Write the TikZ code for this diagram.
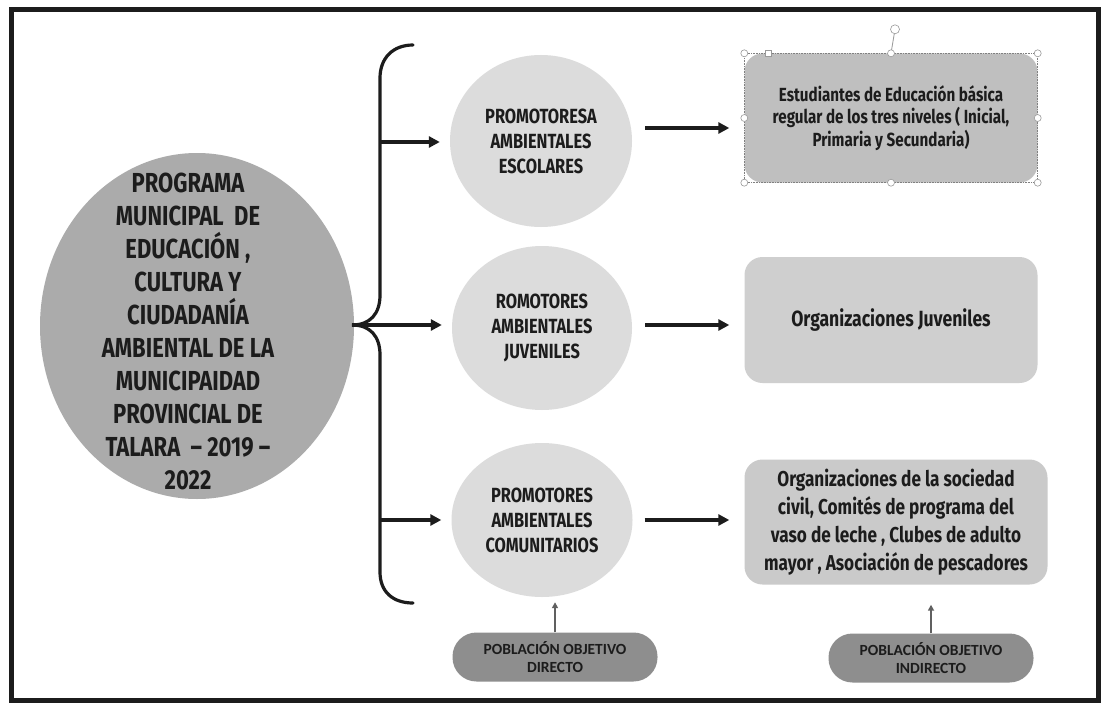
\documentclass[tikz,border=0pt]{standalone}
\usepackage{fontspec}
\usetikzlibrary{shapes.geometric,arrows.meta,calc}
\newfontfamily\agency[FakeStretch=0.8]{Fira Sans}
\newfontfamily\calib{Carlito}
\definecolor{ink}{HTML}{1C1C1C}
\definecolor{ovalfill}{HTML}{ABABAB}
\definecolor{circfill}{HTML}{DCDCDC}
\definecolor{boxA}{HTML}{BFBFBF}
\definecolor{boxB}{HTML}{CFCFCF}
\definecolor{boxC}{HTML}{CACACA}
\definecolor{pillfill}{HTML}{8E8E8E}
\begin{document}
\begin{tikzpicture}[x=1pt,y=1pt,
  arr/.style={line width=3.6pt, draw=ink, -{Triangle[length=11pt,width=11pt]}},
  thinarr/.style={line width=1.8pt, draw=gray!75!black, -{Triangle[length=6pt,width=6pt]}},
  bracestyle/.style={line width=3.2pt, draw=ink, line cap=round},
  oval/.style={ellipse, draw=none, inner sep=0pt},
  circnode/.style={oval, fill=circfill, text=ink, align=center,
     font=\agency\bfseries\fontsize{20.5}{25}\selectfont},
  boxnode/.style={rectangle, rounded corners=18pt, inner sep=0pt, text=ink, align=center,
     minimum width=293pt},
  pill/.style={rectangle, rounded corners=24pt, fill=pillfill, inner sep=0pt,
     minimum width=205pt, minimum height=49pt, align=center, text=ink,
     font=\calib\bfseries\fontsize{15.5}{18}\selectfont},
  handle/.style={circle, draw=gray!80, fill=white, line width=0.6pt, inner sep=0pt, minimum size=7pt}
]
\useasboundingbox (0,0) rectangle (1107,-706);
\fill[white] (0,0) rectangle (1107,-706);
\draw[line width=5pt, draw=ink] (11,-10) rectangle (1098,-700);

% main ellipse
\node[oval, fill=ovalfill, minimum width=314pt, minimum height=346pt] (prog) at (197,-326) {};
\node[text=ink, align=center, inner sep=0pt,
      font=\agency\bfseries\fontsize{27.5}{33}\selectfont] (progtxt) at (188,-331)
 {PROGRAMA\\ MUNICIPAL\ \ DE\\ EDUCACIÓN ,\\ CULTURA Y\\ CIUDADANÍA\\ AMBIENTAL DE LA\\ MUNICIPAIDAD\\ PROVINCIAL DE\\ TALARA\ \ – 2019 –\\ 2022};

% circles
\node[circnode, minimum width=182pt, minimum height=172pt] (c1) at (541,-141)
 {PROMOTORESA\\ AMBIENTALES\\ ESCOLARES};
\node[circnode, minimum width=180pt, minimum height=164pt] (c2) at (542,-328)
 {ROMOTORES\\ AMBIENTALES\\ JUVENILES};
\node[circnode, minimum width=181pt, minimum height=154pt] (c3) at (542,-520)
 {PROMOTORES\\ AMBIENTALES\\ COMUNITARIOS};

% boxes
\node[boxnode, fill=boxA, minimum height=129pt,
      font=\agency\bfseries\fontsize{19}{22.5}\selectfont] (r1) at (891,-118)
 {Estudiantes de Educación básica\\ regular de los tres niveles ( Inicial,\\ Primaria y Secundaria)};
\node[boxnode, fill=boxB, minimum height=126pt,
      font=\agency\bfseries\fontsize{22}{26}\selectfont] (r2) at (891,-320)
 {Organizaciones Juveniles};
\node[boxnode, fill=boxC, minimum width=303pt, minimum height=125pt,
      font=\agency\bfseries\fontsize{21.5}{28}\selectfont] (r3) at (896,-522)
 {Organizaciones de la sociedad\\ civil, Comités de programa del\\ vaso de leche , Clubes de adulto\\ mayor , Asociación de pescadores};

% selection handles on first box
\draw[gray, densely dotted, line width=0.6pt] (r1.north west) rectangle (r1.south east);
\draw[gray!80, line width=0.8pt] (r1.north) -- ++(4,24) coordinate (rot);
\node[handle, minimum size=9pt] (roth) at (rot) {};
\foreach \a in {north west, north, north east, east, south east, south, south west, west}
  \node[handle] at (r1.\a) {};
\node[rectangle, draw=gray!80, fill=white, line width=0.6pt, inner sep=0pt, minimum size=6pt]
  (radh) at ($(r1.north west)+(24,0)$) {};

% pills
\node[pill] (p1) at (555,-657) {POBLACIÓN OBJETIVO\\ DIRECTO};
\node[pill] (p2) at (931,-658) {POBLACIÓN OBJETIVO\\ INDIRECTO};

% brace
\coordinate (bt) at (413,-45);
\coordinate (bm) at (352,-325);
\coordinate (bb) at (413,-603);
\draw[bracestyle] (bt) .. controls (393,-45) and (380,-58) .. (380,-78) -- (380,-295)
  .. controls (380,-314) and (370,-325) .. (bm)
  .. controls (370,-325) and (380,-336) .. (380,-355) -- (380,-572)
  .. controls (380,-592) and (393,-603) .. (bb);

% brace branches
\coordinate (j1) at (380,-142);
\coordinate (j3) at (380,-520);
\draw[arr, shorten >=10pt] (j1) -- (c1.west |- j1);
\draw[arr, shorten >=10pt] (bm) -- (c2.west |- bm);
\draw[arr, shorten >=10pt] (j3) -- (c3.west |- j3);

% circle to box arrows
\coordinate (a1) at ($(c1.east)+(13,13)$);
\coordinate (a2) at ($(c2.east)+(13,3)$);
\coordinate (a3) at ($(c3.east)+(12,0)$);
\draw[arr, shorten >=15pt] (a1) -- (a1 -| r1.west);
\draw[arr, shorten >=15pt] (a2) -- (a2 -| r2.west);
\draw[arr, shorten >=15pt] (a3) -- (a3 -| r3.west);

% population arrows
\draw[thinarr, shorten >=5pt] (p1.north) -- (p1.north |- c3.south);
\draw[thinarr, shorten >=20pt] (p2.north) -- (p2.north |- r3.south);
\end{tikzpicture}
\end{document}
